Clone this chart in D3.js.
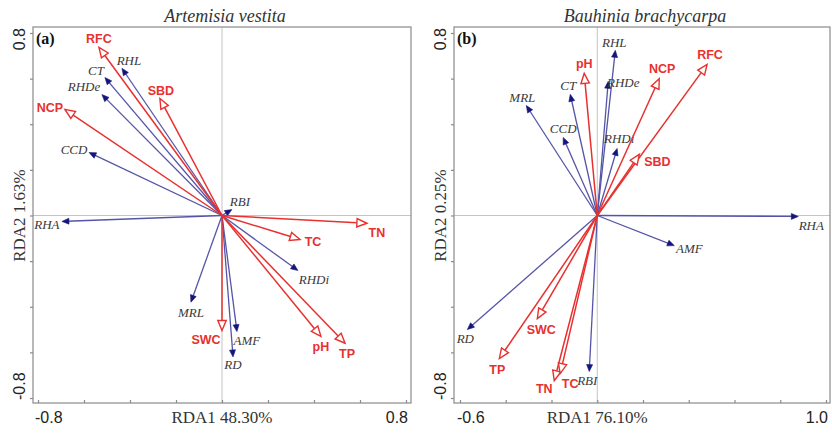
<!DOCTYPE html>
<html><head><meta charset="utf-8">
<script src="https://cdn.jsdelivr.net/npm/d3@7/dist/d3.min.js"></script>
<style>body{margin:0;background:#fff}svg{display:block}</style>
</head><body>
<svg id="c" width="832" height="434"></svg>
<script>
// ---------- DATA ----------
const envNames   = ["RFC","SBD","NCP","TN","TC","pH","TP","SWC"];
const traitNames = ["RHL","CT","RHDe","CCD","RBI","RHA","RHDi","MRL","AMF","RD"];

// Panel (a) Artemisia vestita
const envA_RDA1   = [-0.535,-0.270,-0.683, 0.630, 0.339, 0.430, 0.535, 0.000];
const envA_RDA2   = [ 0.737, 0.513, 0.465,-0.034,-0.105,-0.530,-0.560,-0.504];
const traitA_RDA1 = [-0.435,-0.509,-0.522,-0.578, 0.043,-0.696, 0.330,-0.135, 0.065, 0.048];
const traitA_RDA2 = [ 0.645, 0.605, 0.530, 0.276, 0.026,-0.026,-0.241,-0.380,-0.509,-0.620];

// Panel (b) Bauhinia brachycarpa
const envB_RDA1   = [ 0.480, 0.184, 0.271,-0.188,-0.162,-0.057,-0.428,-0.262];
const envB_RDA2   = [ 0.662, 0.268, 0.600,-0.724,-0.693, 0.623,-0.627,-0.452];
const traitB_RDA1 = [ 0.079,-0.118, 0.048,-0.149,-0.035, 0.879, 0.087,-0.310, 0.337,-0.568];
const traitB_RDA2 = [ 0.724, 0.531, 0.588, 0.342,-0.684,-0.004, 0.294, 0.482,-0.132,-0.500];

const titles    = ["Artemisia vestita","Bauhinia brachycarpa"];
const letters   = ["(a)","(b)"];
const xTitles   = ["RDA1 48.30%","RDA1 76.10%"];
const yTitles   = ["RDA2 1.63%","RDA2 0.25%"];
const xDomains  = [[-0.8,0.8],[-0.6,1.0]];
const yDomain   = [-0.8,0.8];
const xEndLabels = [["-0.8","0.8"],["-0.6","1.0"]];
const yEndLabels = ["-0.8","0.8"];

// ---------- LAYOUT (label nudges in px, relative to arrow tip) ----------
const nudgeA = {RFC:[0,-9],SBD:[1,-8],NCP:[-15,-2],TN:[10,9],TC:[13,2],pH:[0,10],TP:[2,10],SWC:[-16,9],
  RHL:[7,-8],CT:[-9,-7],RHDe:[-18,-8],CCD:[-15,-3],RBI:[8,-8],RHA:[-15,3],RHDi:[16,9],MRL:[0,10],AMF:[10,9],RD:[0,8]};
const nudgeB = {pH:[0,-10],NCP:[3,-10],RFC:[3,-10],SBD:[18,7],SWC:[4,11],TP:[-2,11],TN:[-10,8],TC:[10,10],
  RHL:[-1,-8],RHDe:[15,1],CT:[-2,-9],MRL:[-4,-8],CCD:[0,-9],RHDi:[2,-10],RHA:[13,9],AMF:[15,3],RD:[-2,9],RBI:[-2,9]};

const panels = [
  {frame:[33,27,411,403], xr:[38,406], env:[envA_RDA1,envA_RDA2], tr:[traitA_RDA1,traitA_RDA2], nudge:nudgeA},
  {frame:[454,27,830,403], xr:[460,826], env:[envB_RDA1,envB_RDA2], tr:[traitB_RDA1,traitB_RDA2], nudge:nudgeB}
];

const RED = "#e8312f", BLUE_LINE = "#5555a8", BLUE_HEAD = "#16167a";
const svg = d3.select("#c");

panels.forEach((p, i) => {
  const [fx0, fy0, fx1, fy1] = p.frame;
  const x = d3.scaleLinear().domain(xDomains[i]).range(p.xr);
  const y = d3.scaleLinear().domain(yDomain).range([398, 33]);
  const g = svg.append("g");

  // crosshair through origin
  g.append("line").attr("x1", x(0)).attr("x2", x(0)).attr("y1", fy0).attr("y2", fy1)
    .attr("stroke", "#c4c4c4").attr("stroke-width", 1);
  g.append("line").attr("x1", fx0).attr("x2", fx1).attr("y1", y(0)).attr("y2", y(0))
    .attr("stroke", "#c4c4c4").attr("stroke-width", 1);

  // frame
  g.append("rect").attr("x", fx0).attr("y", fy0).attr("width", fx1 - fx0).attr("height", fy1 - fy0)
    .attr("fill", "none").attr("stroke", "#8a8a8a").attr("stroke-width", 1.2);

  // axes ticks
  const xt = d3.range(0, 9).map(k => xDomains[i][0] + k * 0.2);
  const yt = d3.range(0, 9).map(k => -0.8 + k * 0.2);
  const ax = g.append("g").attr("transform", `translate(0,${fy1})`)
    .call(d3.axisBottom(x).tickValues(xt).tickSize(-3).tickFormat(""));
  ax.select(".domain").remove();
  ax.selectAll("line").attr("stroke", "#8a8a8a").attr("stroke-width", 1.2);
  const ay = g.append("g").attr("transform", `translate(${fx0},0)`)
    .call(d3.axisLeft(y).tickValues(yt).tickSize(3).tickFormat(""));
  ay.select(".domain").remove();
  ay.selectAll("line").attr("stroke", "#8a8a8a").attr("stroke-width", 1.2);

  // end tick labels
  const sans = "'Liberation Sans', Arial, sans-serif";
  const serif = "'Liberation Serif', 'Times New Roman', serif";
  g.append("text").attr("x", x(xDomains[i][0]) - 3).attr("y", 423).attr("font-family", sans)
    .attr("font-size", 16).attr("fill", "#222").text(xEndLabels[i][0]);
  g.append("text").attr("x", x(xDomains[i][1]) + 2).attr("y", 423).attr("text-anchor", "end").attr("font-family", sans)
    .attr("font-size", 16).attr("fill", "#222").text(xEndLabels[i][1]);
  g.append("text").attr("transform", `translate(${fx0 - 8},${y(0.8) - 5}) rotate(-90)`).attr("text-anchor", "end")
    .attr("font-family", sans).attr("font-size", 16).attr("fill", "#222").text(yEndLabels[1]);
  g.append("text").attr("transform", `translate(${fx0 - 8},${y(-0.8) + 2}) rotate(-90)`).attr("text-anchor", "start")
    .attr("font-family", sans).attr("font-size", 16).attr("fill", "#222").text(yEndLabels[0]);

  // axis titles
  g.append("text").attr("x", x(0)).attr("y", 423).attr("text-anchor", "middle").attr("font-family", serif)
    .attr("font-size", 17).attr("fill", "#333").text(xTitles[i]);
  g.append("text").attr("transform", `translate(${fx0 - 8},${y(0)}) rotate(-90)`).attr("text-anchor", "middle")
    .attr("font-family", serif).attr("font-size", 17).attr("fill", "#333").text(yTitles[i]);

  // title and panel letter
  g.append("text").attr("x", (fx0 + fx1) / 2 + 3).attr("y", 22).attr("text-anchor", "middle").attr("font-family", serif)
    .attr("font-style", "italic").attr("font-size", 18).attr("fill", "#333").text(titles[i]);
  g.append("text").attr("x", fx0 + 3).attr("y", 44).attr("font-family", serif).attr("font-weight", "bold")
    .attr("font-size", 16).attr("fill", "#111").text(letters[i]);

  const ox = x(0), oy = y(0);

  function drawArrows(names, xs, ys, kind) {
    names.forEach((n, k) => {
      const tx = x(xs[k]), ty = y(ys[k]);
      const dx = tx - ox, dy = ty - oy, L = Math.hypot(dx, dy);
      const ux = dx / L, uy = dy / L, px = -uy, py = ux;
      if (kind === "env") {
        const hl = 10, hw = 4.2;
        const bx = tx - ux * hl, by = ty - uy * hl;
        g.append("line").attr("x1", ox).attr("y1", oy).attr("x2", bx).attr("y2", by)
          .attr("stroke", RED).attr("stroke-width", 1.5);
        g.append("path").attr("d", `M${tx},${ty}L${bx + px * hw},${by + py * hw}L${bx - px * hw},${by - py * hw}Z`)
          .attr("fill", "#fff").attr("stroke", RED).attr("stroke-width", 1.4).attr("stroke-linejoin", "miter");
      } else {
        const hl = 7, hw = 3;
        const bx = tx - ux * hl, by = ty - uy * hl;
        g.append("line").attr("x1", ox).attr("y1", oy).attr("x2", bx + ux * 2).attr("y2", by + uy * 2)
          .attr("stroke", BLUE_LINE).attr("stroke-width", 1.3);
        g.append("path").attr("d", `M${tx},${ty}L${bx + px * hw},${by + py * hw}L${bx - px * hw},${by - py * hw}Z`)
          .attr("fill", BLUE_HEAD).attr("stroke", BLUE_HEAD).attr("stroke-width", 0.6);
      }
      const nd = p.nudge[n] || [0, 0];
      const t = g.append("text").attr("x", tx + nd[0]).attr("y", ty + nd[1]).attr("dy", "0.35em")
        .attr("text-anchor", "middle").text(n);
      if (kind === "env") {
        t.attr("font-family", sans).attr("font-weight", "bold").attr("font-size", 12.5).attr("fill", RED);
      } else {
        t.attr("font-family", serif).attr("font-style", "italic").attr("font-size", 13).attr("fill", "#3a3a3a");
      }
    });
  }
  drawArrows(traitNames, p.tr[0], p.tr[1], "trait");
  drawArrows(envNames, p.env[0], p.env[1], "env");
});
</script>
</body></html>
